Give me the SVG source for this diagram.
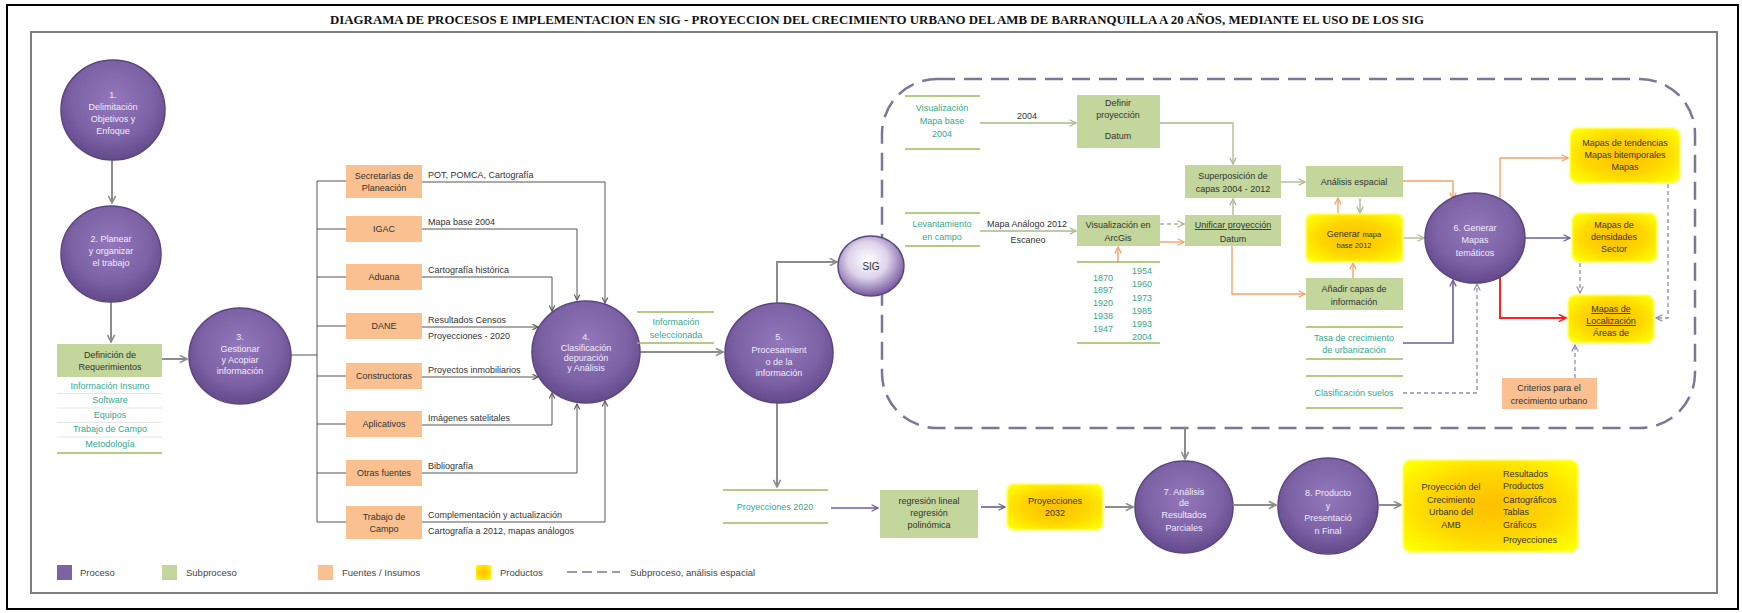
<svg xmlns="http://www.w3.org/2000/svg" width="1742" height="613" viewBox="0 0 1742 613">
<style>
text{font-family:"Liberation Sans",Arial,sans-serif;font-size:9px;fill:#333;text-anchor:middle}
.title{font-family:"Liberation Serif","Times New Roman",serif;font-weight:bold;font-size:11.5px;fill:#111}
.ct{fill:#f1ebfb}
.tl{fill:#35a98f}
.l{text-anchor:start}
.u{text-decoration:underline}
.sm{font-size:7.5px}
.lg{font-size:9.5px;text-anchor:start;fill:#444}
.proc{fill:url(#gp);stroke:#5b4580;stroke-width:1.5}
.sub{fill:#c3d69b}
.src{fill:#fac090}
.prod{fill:url(#gy);stroke:#ffff70;stroke-width:2.5;stroke-opacity:.7}
.gl{stroke:#9bbb59;stroke-width:1.3}
.fl{stroke:#e6e6e6;stroke-width:1}
.cn{fill:none}
.k{stroke:#555;stroke-width:1}
.g{stroke:#8c8c8c;stroke-width:2}
.p{stroke:#6d5e9c;stroke-width:1.6}
.o{stroke:#f4a46a;stroke-width:1.4}
.gg{stroke:#a7b98a;stroke-width:1.3}
.r{stroke:#ff2020;stroke-width:2}
.d{stroke:#8f8cb0;stroke-width:1.3;stroke-dasharray:4 3}
.gd{stroke:#a7b98a;stroke-width:1.3;stroke-dasharray:4 3}
</style>
<defs>
<radialGradient id="gp" cx="50%" cy="40%" r="60%"><stop offset="0" stop-color="#9278bb"/><stop offset="0.65" stop-color="#7d62a6"/><stop offset="1" stop-color="#634a8a"/></radialGradient>
<radialGradient id="gs" cx="45%" cy="40%" r="60%"><stop offset="0" stop-color="#ffffff"/><stop offset="0.5" stop-color="#ddd3ea"/><stop offset="1" stop-color="#76589f"/></radialGradient>
<radialGradient id="gy" cx="50%" cy="50%" r="65%"><stop offset="0" stop-color="#ffbf00"/><stop offset="0.55" stop-color="#ffd700"/><stop offset="1" stop-color="#ffff00"/></radialGradient>
<marker id="mk" viewBox="0 0 10 10" refX="9" refY="5" markerWidth="7" markerHeight="7" markerUnits="userSpaceOnUse" orient="auto"><path d="M1,1 L9,5 L1,9" fill="none" stroke="#555" stroke-width="1.6"/></marker>
<marker id="mg" viewBox="0 0 10 10" refX="9" refY="5" markerWidth="9" markerHeight="9" markerUnits="userSpaceOnUse" orient="auto"><path d="M1,1 L9,5 L1,9" fill="none" stroke="#8c8c8c" stroke-width="1.8"/></marker>
<marker id="mp" viewBox="0 0 10 10" refX="9" refY="5" markerWidth="8" markerHeight="8" markerUnits="userSpaceOnUse" orient="auto"><path d="M1,1 L9,5 L1,9" fill="none" stroke="#6d5e9c" stroke-width="1.6"/></marker>
<marker id="mo" viewBox="0 0 10 10" refX="9" refY="5" markerWidth="8" markerHeight="8" markerUnits="userSpaceOnUse" orient="auto"><path d="M1,1 L9,5 L1,9" fill="none" stroke="#f4a46a" stroke-width="1.6"/></marker>
<marker id="mgg" viewBox="0 0 10 10" refX="9" refY="5" markerWidth="8" markerHeight="8" markerUnits="userSpaceOnUse" orient="auto"><path d="M1,1 L9,5 L1,9" fill="none" stroke="#a7b98a" stroke-width="1.6"/></marker>
<marker id="mr" viewBox="0 0 10 10" refX="9" refY="5" markerWidth="9" markerHeight="9" markerUnits="userSpaceOnUse" orient="auto"><path d="M1,1 L9,5 L1,9" fill="none" stroke="#ff2020" stroke-width="1.8"/></marker>
<marker id="md" viewBox="0 0 10 10" refX="9" refY="5" markerWidth="8" markerHeight="8" markerUnits="userSpaceOnUse" orient="auto"><path d="M1,1 L9,5 L1,9" fill="none" stroke="#8f8cb0" stroke-width="1.5"/></marker>
</defs>

<g id="frame">
<rect x="7" y="5" width="1731" height="604" fill="#fff" stroke="#000" stroke-width="2"/>
<rect x="31" y="32" width="1686" height="561" fill="none" stroke="#7f7f7f" stroke-width="2"/>
<text class="title" x="877" y="24" textLength="1094" lengthAdjust="spacingAndGlyphs">DIAGRAMA DE PROCESOS E IMPLEMENTACION EN SIG - PROYECCION DEL CRECIMIENTO URBANO DEL AMB DE BARRANQUILLA A 20 AÑOS, MEDIANTE EL USO DE LOS SIG</text>
</g>

<g id="region">
<rect x="882" y="79" width="813" height="349" rx="55" fill="none" stroke="#7b7896" stroke-width="2.5" stroke-dasharray="18 9"/>
</g>

<g id="connectors">
<path class="cn g" d="M112,160 V203" marker-end="url(#mg)"/>
<path class="cn g" d="M111,302 V342" marker-end="url(#mg)"/>
<path class="cn g" d="M162,359 H187" marker-end="url(#mg)"/>
<path class="cn k" d="M291,355 H317 M317,181 V522 M317,181 H346 M317,229 H346 M317,277 H346 M317,326 H346 M317,376 H346 M317,424 H346 M317,473 H346 M317,522 H346"/>
<path class="cn k" d="M422,182 H605 V303" marker-end="url(#mk)"/>
<path class="cn k" d="M422,229 H577 V300" marker-end="url(#mk)"/>
<path class="cn k" d="M422,277 H552 V311" marker-end="url(#mk)"/>
<path class="cn k" d="M422,327 H538" marker-end="url(#mk)"/>
<path class="cn k" d="M422,377 H538" marker-end="url(#mk)"/>
<path class="cn k" d="M422,425 H552 V393" marker-end="url(#mk)"/>
<path class="cn k" d="M422,473 H577 V404" marker-end="url(#mk)"/>
<path class="cn k" d="M422,522 H605 V401" marker-end="url(#mk)"/>
<path class="cn g" d="M640,352 H723" marker-end="url(#mg)"/>
<path class="cn g" d="M777,303 V262 H837" marker-end="url(#mg)"/>
<path class="cn g" d="M777,403 V487" marker-end="url(#mg)"/>
<path class="cn p" d="M831,508 H878" marker-end="url(#mp)"/>
<path class="cn p" d="M981,507 H1005" marker-end="url(#mp)"/>
<path class="cn g" d="M1105,507 H1133" marker-end="url(#mg)"/>
<path class="cn g" d="M1185,428 V459" marker-end="url(#mg)"/>
<path class="cn g" d="M1234,505 H1276" marker-end="url(#mg)"/>
<path class="cn g" d="M1379,505 H1401" marker-end="url(#mg)"/>
<path class="cn gg" d="M980,123 H1076" marker-end="url(#mgg)"/>
<path class="cn gg" d="M1160,123 H1233 V164" marker-end="url(#mgg)"/>
<path class="cn gg" d="M980,231 H1076" marker-end="url(#mgg)"/>
<path class="cn gd" d="M1160,224 H1184" marker-end="url(#mgg)"/>
<path class="cn o" d="M1160,242 H1184" marker-end="url(#mo)"/>
<path class="cn gg" d="M1233,215 V199" marker-end="url(#mgg)"/>
<path class="cn o" d="M1118,262 V247" marker-end="url(#mo)"/>
<path class="cn o" d="M1232,246 V294 H1305" marker-end="url(#mo)"/>
<path class="cn gg" d="M1281,182 H1305" marker-end="url(#mgg)"/>
<path class="cn o" d="M1338,214 V198" marker-end="url(#mo)"/>
<path class="cn gg" d="M1360,198 V213" marker-end="url(#mgg)"/>
<path class="cn o" d="M1353,278 V263" marker-end="url(#mo)"/>
<path class="cn o" d="M1403,181 H1453 V199" marker-end="url(#mo)"/>
<path class="cn gg" d="M1403,238 H1424" marker-end="url(#mgg)"/>
<path class="cn p" d="M1403,343 H1453 V280" marker-end="url(#mp)"/>
<path class="cn d" d="M1403,393 H1477 V284" marker-end="url(#md)"/>
<path class="cn o" d="M1500,199 V158 H1568" marker-end="url(#mo)"/>
<path class="cn p" d="M1525,238 H1570" marker-end="url(#mp)"/>
<path class="cn r" d="M1500,277 V318 H1566" marker-end="url(#mr)"/>
<path class="cn d" d="M1580,263 V293" marker-end="url(#md)"/>
<path class="cn d" d="M1668,184 V318 H1656" marker-end="url(#md)"/>
<path class="cn d" d="M1575,378 V345" marker-end="url(#md)"/>
</g>

<g id="n1"><ellipse class="proc" cx="113" cy="110" rx="52" ry="50"/>
<text class="ct" x="113" y="98">1.</text><text class="ct" x="113" y="110">Delimitación</text><text class="ct" x="113" y="122">Objetivos  y</text><text class="ct" x="113" y="134">Enfoque</text></g>
<g id="n2"><ellipse class="proc" cx="111" cy="254" rx="50" ry="48"/>
<text class="ct" x="111" y="242">2. Planear</text><text class="ct" x="111" y="254">y organizar</text><text class="ct" x="111" y="266">el trabajo</text></g>
<g id="def"><rect class="sub" x="57" y="344" width="105" height="33"/>
<text x="110" y="358">Definición de</text><text x="110" y="370">Requerimientos</text>
<text class="tl" x="110" y="389">Información Insumo</text><text class="tl" x="110" y="403">Software</text><text class="tl" x="110" y="418">Equipos</text><text class="tl" x="110" y="432">Trabajo de Campo</text><text class="tl" x="110" y="447">Metodología</text>
<path class="fl" d="M57,393.5 H162 M57,408 H162 M57,422.5 H162 M57,437 H162"/>
<path class="gl" d="M57,453 H162"/></g>
<g id="n3"><ellipse class="proc" cx="240" cy="356" rx="51" ry="48"/>
<text class="ct" x="240" y="340">3.</text><text class="ct" x="240" y="352">Gestionar</text><text class="ct" x="240" y="363">y Acopiar</text><text class="ct" x="240" y="374">información</text></g>

<g id="src1"><rect class="src" x="346" y="165" width="76" height="33"/><text x="384" y="179">Secretarías de</text><text x="384" y="191">Planeación</text></g>
<g id="src2"><rect class="src" x="346" y="216" width="76" height="26"/><text x="384" y="232">IGAC</text></g>
<g id="src3"><rect class="src" x="346" y="264" width="76" height="26"/><text x="384" y="280">Aduana</text></g>
<g id="src4"><rect class="src" x="346" y="313" width="76" height="26"/><text x="384" y="329">DANE</text></g>
<g id="src5"><rect class="src" x="346" y="363" width="76" height="26"/><text x="384" y="379">Constructoras</text></g>
<g id="src6"><rect class="src" x="346" y="411" width="76" height="26"/><text x="384" y="427">Aplicativos</text></g>
<g id="src7"><rect class="src" x="346" y="460" width="76" height="26"/><text x="384" y="476">Otras fuentes</text></g>
<g id="src8"><rect class="src" x="346" y="506" width="76" height="33"/><text x="384" y="520">Trabajo de</text><text x="384" y="532">Campo</text></g>

<g id="labels">
<text class="l" x="428" y="178">POT, POMCA, Cartografía</text>
<text class="l" x="428" y="225">Mapa base 2004</text>
<text class="l" x="428" y="273">Cartografía histórica</text>
<text class="l" x="428" y="323">Resultados Censos</text>
<text class="l" x="428" y="339">Proyecciones - 2020</text>
<text class="l" x="428" y="373">Proyectos inmobiliarios</text>
<text class="l" x="428" y="421">Imágenes satelitales</text>
<text class="l" x="428" y="469">Bibliografía</text>
<text class="l" x="428" y="518">Complementación y actualización</text>
<text class="l" x="428" y="534">Cartografía a 2012, mapas análogos</text>
<text x="1027" y="119">2004</text>
<text x="1027" y="227">Mapa Análogo 2012</text>
<text x="1028" y="243">Escaneo</text>
</g>

<g id="n4"><ellipse class="proc" cx="586" cy="352" rx="54" ry="51"/>
<text class="ct" x="586" y="340">4.</text><text class="ct" x="586" y="351">Clasificación</text><text class="ct" x="586" y="361">depuración</text><text class="ct" x="586" y="371">y Análisis</text></g>
<g id="infosel"><path class="gl" d="M637,312 H714 M637,343 H714"/><text class="tl" x="676" y="325">Información</text><text class="tl" x="676" y="338">seleccionada</text></g>
<g id="n5"><ellipse class="proc" cx="779" cy="353" rx="54" ry="50"/>
<text class="ct" x="779" y="340">5.</text><text class="ct" x="779" y="353">Procesamient</text><text class="ct" x="779" y="365">o de la</text><text class="ct" x="779" y="376">información</text></g>
<g id="nsig"><ellipse cx="871" cy="266" rx="33" ry="30" fill="url(#gs)" stroke="#5b4580" stroke-width="1.5"/><text x="871" y="270" style="font-size:10px">SIG</text></g>

<g id="proy2020"><path class="gl" d="M723,490 H828 M723,523 H828"/><text class="tl" x="775" y="510">Proyecciones 2020</text></g>
<g id="regr"><rect class="sub" x="880" y="490" width="98" height="48"/><text x="929" y="504">regresión lineal</text><text x="929" y="516">regresión</text><text x="929" y="528">polinómica</text></g>
<g id="proy2032"><rect class="prod" x="1007" y="484" width="96" height="46" rx="7"/><text x="1055" y="504">Proyecciones</text><text x="1055" y="516">2032</text></g>
<g id="n7"><ellipse class="proc" cx="1184" cy="507" rx="49" ry="46"/>
<text class="ct" x="1184" y="495">7. Análisis</text><text class="ct" x="1184" y="506">de</text><text class="ct" x="1184" y="518">Resultados</text><text class="ct" x="1184" y="531">Parciales</text></g>
<g id="n8"><ellipse class="proc" cx="1328" cy="506" rx="50" ry="48"/>
<text class="ct" x="1328" y="496">8. Producto</text><text class="ct" x="1328" y="509">y</text><text class="ct" x="1328" y="521">Presentació</text><text class="ct" x="1328" y="534">n Final</text></g>
<g id="final"><rect class="prod" x="1403" y="460" width="175" height="92" rx="8"/>
<text x="1451" y="490">Proyección del</text><text x="1451" y="503">Crecimiento</text><text x="1451" y="515">Urbano del</text><text x="1451" y="528">AMB</text>
<text class="l" x="1503" y="477">Resultados</text><text class="l" x="1503" y="489">Productos</text><text class="l" x="1503" y="503">Cartográficos</text><text class="l" x="1503" y="515">Tablas</text><text class="l" x="1503" y="528">Gráficos</text><text class="l" x="1503" y="543">Proyecciones</text></g>

<g id="vis2004"><path class="gl" d="M905,96 H980 M905,149 H980"/><text class="tl" x="942" y="111">Visualización</text><text class="tl" x="942" y="124">Mapa base</text><text class="tl" x="942" y="137">2004</text></g>
<g id="definir"><rect class="sub" x="1077" y="95" width="83" height="53"/><text x="1118" y="106">Definir</text><text x="1118" y="118">proyección</text><text x="1118" y="139">Datum</text></g>
<g id="superp"><rect class="sub" x="1185" y="165" width="96" height="33"/><text x="1233" y="179">Superposición de</text><text x="1233" y="192">capas  2004 - 2012</text></g>
<g id="levant"><path class="gl" d="M905,213 H980 M905,246 H980"/><text class="tl" x="942" y="227">Levantamiento</text><text class="tl" x="942" y="240">en campo</text></g>
<g id="visarc"><rect class="sub" x="1077" y="215" width="83" height="31"/><text x="1118" y="228">Visualización en</text><text x="1118" y="241">ArcGis</text></g>
<g id="unif"><rect class="sub" x="1185" y="215" width="96" height="31"/><text class="u" x="1233" y="228">Unificar proyección</text><text x="1233" y="242">Datum</text></g>
<g id="years"><path class="gl" d="M1077,262 H1160 M1077,343 H1160"/>
<text class="tl" x="1103" y="281">1870</text><text class="tl" x="1103" y="293">1897</text><text class="tl" x="1103" y="306">1920</text><text class="tl" x="1103" y="319">1938</text><text class="tl" x="1103" y="332">1947</text>
<text class="tl" x="1142" y="274">1954</text><text class="tl" x="1142" y="287">1960</text><text class="tl" x="1142" y="301">1973</text><text class="tl" x="1142" y="314">1985</text><text class="tl" x="1142" y="327">1993</text><text class="tl" x="1142" y="340">2004</text></g>
<g id="analisis"><rect class="sub" x="1306" y="166" width="97" height="31"/><text x="1354" y="185">Análisis espacial</text></g>
<g id="generar"><rect class="prod" x="1306" y="214" width="97" height="48" rx="6"/><text x="1354" y="237">Generar <tspan class="sm">mapa</tspan></text><text class="sm" x="1354" y="248">base 2012</text></g>
<g id="anadir"><rect class="sub" x="1306" y="278" width="97" height="32"/><text x="1354" y="292">Añadir capas de</text><text x="1354" y="305">información</text></g>
<g id="tasa"><path class="gl" d="M1306,327 H1403 M1306,359 H1403"/><text class="tl" x="1354" y="341">Tasa de crecimiento</text><text class="tl" x="1354" y="353">de urbanización</text></g>
<g id="clasif"><path class="gl" d="M1306,376 H1403 M1306,408 H1403"/><text class="tl" x="1354" y="396">Clasificación suelos</text></g>
<g id="n6"><ellipse class="proc" cx="1475" cy="238" rx="50" ry="45"/>
<text class="ct" x="1475" y="231">6. Generar</text><text class="ct" x="1475" y="243">Mapas</text><text class="ct" x="1475" y="256">temáticos</text></g>
<g id="tend"><rect class="prod" x="1570" y="128" width="110" height="55" rx="8"/><text x="1625" y="146">Mapas de tendencias</text><text x="1625" y="158">Mapas bitemporales</text><text x="1625" y="170">Mapas</text></g>
<g id="dens"><rect class="prod" x="1572" y="213" width="85" height="49" rx="8"/><text x="1614" y="228">Mapas de</text><text x="1614" y="240">densidades</text><text x="1614" y="252">Sector</text></g>
<g id="loc"><rect class="prod" x="1568" y="295" width="86" height="48" rx="8"/><text class="u" x="1611" y="312">Mapas de</text><text class="u" x="1611" y="324">Localización</text><text x="1611" y="336">Áreas de</text></g>
<g id="criterios"><rect class="src" x="1502" y="378" width="95" height="31"/><text x="1549" y="391">Criterios para el</text><text x="1549" y="404">crecimiento urbano</text></g>

<g id="legend">
<rect x="57" y="565" width="15" height="15" fill="#7d62a6"/><text class="lg" x="80" y="576">Proceso</text>
<rect x="162" y="565" width="15" height="15" fill="#c3d69b"/><text class="lg" x="186" y="576">Subproceso</text>
<rect x="318" y="565" width="15" height="15" fill="#fac090"/><text class="lg" x="342" y="576">Fuentes / Insumos</text>
<rect x="476" y="565" width="15" height="15" fill="url(#gy)"/><text class="lg" x="500" y="576">Productos</text>
<path d="M567,572 H620" stroke="#7b7896" stroke-width="1.5" stroke-dasharray="10 5"/><text class="lg" x="630" y="576">Subproceso, análisis espacial</text>
</g>
</svg>
